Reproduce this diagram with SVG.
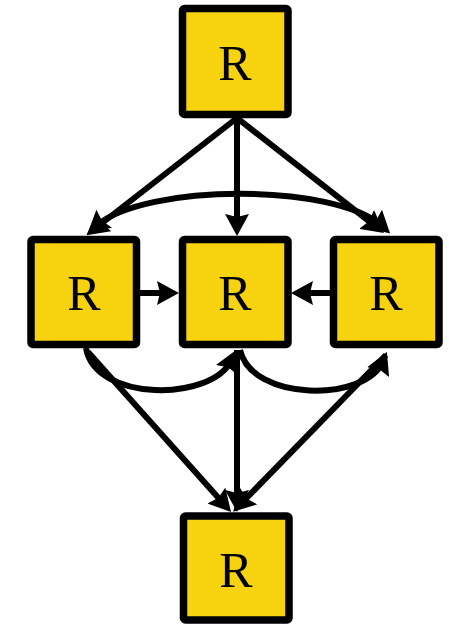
<svg xmlns="http://www.w3.org/2000/svg" width="449" height="625" viewBox="0 0 449 625">
<style>
.box{fill:#F7D20E;stroke:#000;stroke-width:7.5}
.lbl{font-family:"Liberation Serif","Times New Roman",serif;font-size:50px;fill:#000;text-anchor:middle}
.e{fill:none;stroke:#000;stroke-width:6}
</style>
<defs>
<marker id="ah" markerUnits="userSpaceOnUse" markerWidth="22" markerHeight="24" refX="11" refY="12" orient="auto-start-reverse" viewBox="0 0 22 24">
<path d="M0,0 L22,12 L0,24 L3,12 z" fill="#000"/>
</marker>
</defs>
<rect width="449" height="625" fill="#fff"/>
<g id="edges">
<path class="e" d="M237,118 L95.1,228.5" marker-end="url(#ah)"/>
<path class="e" d="M237,118 L237,225" marker-end="url(#ah)"/>
<path class="e" d="M237,118 L375.3,226.2" marker-end="url(#ah)"/>
<path class="e" d="M96,226 C145,183 335,183 382,226" marker-start="url(#ah)" marker-end="url(#ah)"/>
<path class="e" d="M140,293 L168,293" marker-end="url(#ah)"/>
<path class="e" d="M330,293 L302,293" marker-end="url(#ah)"/>
<path class="e" d="M86,348 C95,402 212,402 231.5,360" marker-end="url(#ah)"/>
<path class="e" d="M240,350 C252,402 365,402 382.5,362" marker-end="url(#ah)"/>
<path class="e" d="M237,350 L237,501" marker-end="url(#ah)"/>
<path class="e" d="M88,352 L223.7,503.8" marker-end="url(#ah)"/>
<path class="e" d="M386,355 L240.8,503.9" marker-end="url(#ah)"/>
</g>
<g id="n-top"><rect class="box" x="182.5" y="8.5" width="105.5" height="106" rx="2"/><text class="lbl" x="235" y="80">R</text></g>
<g id="n-left"><rect class="box" x="31" y="239.5" width="105.5" height="105" rx="2"/><text class="lbl" x="84" y="310">R</text></g>
<g id="n-mid"><rect class="box" x="182.5" y="239.5" width="105.5" height="105" rx="2"/><text class="lbl" x="235" y="310">R</text></g>
<g id="n-right"><rect class="box" x="333.5" y="239.5" width="105.5" height="105" rx="2"/><text class="lbl" x="386" y="310">R</text></g>
<g id="n-bottom"><rect class="box" x="183.5" y="516" width="105.5" height="104" rx="2"/><text class="lbl" x="236" y="587">R</text></g>
</svg>
